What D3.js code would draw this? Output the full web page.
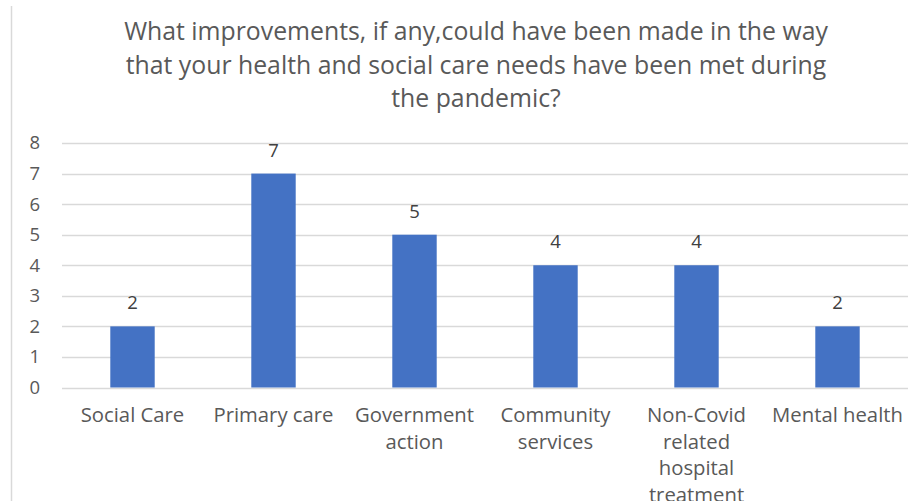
<!DOCTYPE html>
<html>
<head>
<meta charset="utf-8">
<script src="https://cdn.jsdelivr.net/npm/d3@7"></script>
<style>
  html, body { margin: 0; padding: 0; background: #fff; }
  svg { display: block; font-family: 'Open Sans', sans-serif; }
</style>
</head>
<body>
<div id="chart"></div>
<script>
const titleLines = [
  'What improvements, if any,could have been made in the way',
  'that your health and social care needs have been met during',
  'the pandemic?',
]
const categories = ['Social Care', 'Primary care', 'Government action', 'Community services', 'Non-Covid related hospital treatment', 'Mental health']
const categoryLines = [
  ['Social Care'],
  ['Primary care'],
  ['Government', 'action'],
  ['Community', 'services'],
  ['Non-Covid', 'related', 'hospital', 'treatment'],
  ['Mental health'],
]
const values = [2, 7, 5, 4, 4, 2]
const yTicks = [0, 1, 2, 3, 4, 5, 6, 7, 8]

const width = 924
const height = 501
const margin = { top: 143, right: 16, bottom: 114, left: 62 }
const innerW = width - margin.left - margin.right
const innerH = height - margin.top - margin.bottom

const svg = d3.select('#chart').append('svg').attr('width', width).attr('height', height)

// thin frame edge on the left
svg.append('line')
  .attr('x1', 11.5).attr('x2', 11.5).attr('y1', 6).attr('y2', height)
  .attr('stroke', '#d9d9d9').attr('stroke-width', 1.5)

svg.append('g').selectAll('text').data(titleLines).join('text')
  .attr('x', 476).attr('y', (d, i) => 40 + i * 33.5)
  .attr('text-anchor', 'middle')
  .attr('font-size', 24.8)
  .attr('fill', '#595959')
  .text((d) => d)

const g = svg.append('g').attr('transform', `translate(${margin.left},${margin.top})`)

const x = d3.scaleBand().domain(categories).range([0, innerW]).padding(0)
const y = d3.scaleLinear().domain([0, 8]).range([innerH + 0.5, 0])
const barW = x.bandwidth() * 0.315

// gridlines
g.append('g').selectAll('line').data(yTicks).join('line')
  .attr('x1', 0).attr('x2', innerW)
  .attr('y1', (d) => Math.round(y(d)) + 0.5).attr('y2', (d) => Math.round(y(d)) + 0.5)
  .attr('stroke', '#d9d9d9').attr('stroke-width', 1.3)

const yAxis = g.append('g').call(d3.axisLeft(y).tickValues(yTicks).tickSize(0).tickPadding(22))
yAxis.select('.domain').remove()
yAxis.selectAll('text').attr('font-size', 18.5).attr('fill', '#595959').attr('font-family', "'Open Sans', sans-serif")

g.selectAll('rect.bar').data(values).join('rect')
  .attr('class', 'bar')
  .attr('x', (d, i) => x(categories[i]) + x.bandwidth() / 2 - barW / 2)
  .attr('width', barW)
  .attr('y', (d) => y(d))
  .attr('height', (d) => y(0) - y(d))
  .attr('fill', '#4472c4')

g.selectAll('text.val').data(values).join('text')
  .attr('class', 'val')
  .attr('x', (d, i) => x(categories[i]) + x.bandwidth() / 2)
  .attr('y', (d) => y(d) - 17)
  .attr('text-anchor', 'middle')
  .attr('font-size', 18.5)
  .attr('fill', '#404040')
  .text((d) => d)

const xl = g.append('g').selectAll('text').data(categoryLines).join('text')
  .attr('text-anchor', 'middle')
  .attr('font-size', 20.3)
  .attr('fill', '#595959')
xl.selectAll('tspan').data((d, i) => d.map((t) => ({ t, i }))).join('tspan')
  .attr('x', (d) => x(categories[d.i]) + x.bandwidth() / 2)
  .attr('y', (d, j) => innerH + 35 + j * 26.5)
  .text((d) => d.t)
</script>
</body>
</html>
